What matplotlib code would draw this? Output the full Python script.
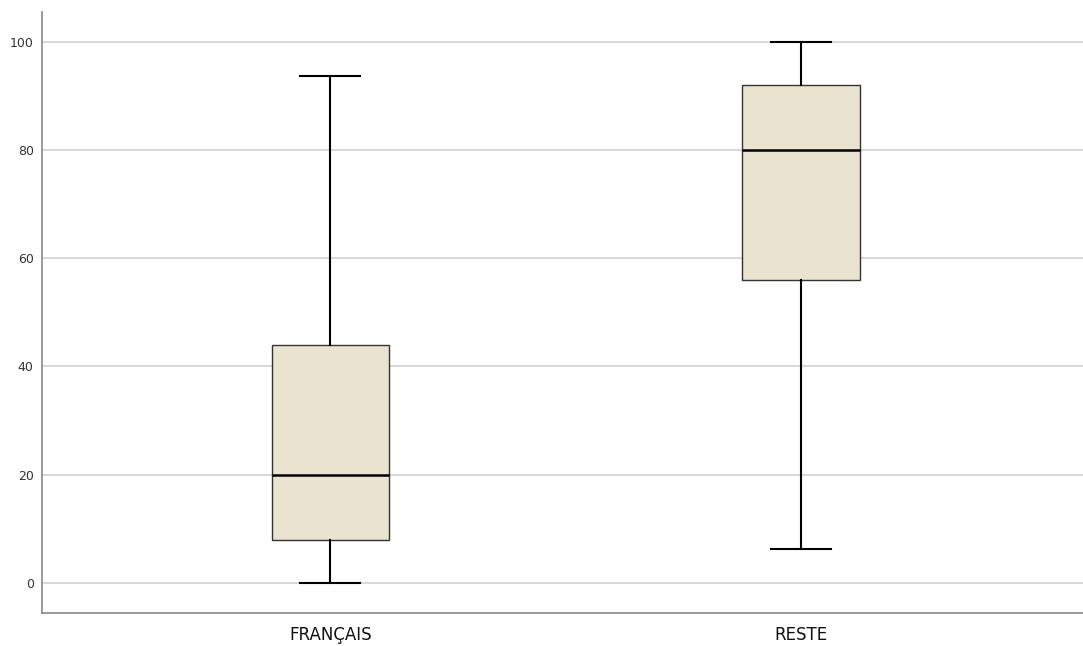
import matplotlib
matplotlib.use('Agg')
import matplotlib.pyplot as plt

categories = ['FRANÇAIS', 'RESTE']
whisker_low = [0, 6.3]
q1 = [8, 56]
median = [20, 80]
q3 = [44, 92]
whisker_high = [93.7, 100]
yticks = [0, 20, 40, 60, 80, 100]

stats = []
for i, name in enumerate(categories):
    stats.append(dict(label=name, whislo=whisker_low[i], q1=q1[i], med=median[i],
                      q3=q3[i], whishi=whisker_high[i], fliers=[]))

fig = plt.figure(figsize=(10.83, 6.46), dpi=100)
ax = fig.add_axes([42 / 1083, 1 - 613 / 646, 1 - 42 / 1083, (613 - 12) / 646])

ax.bxp(stats, positions=[1, 2], widths=0.25, patch_artist=True,
       boxprops=dict(facecolor='#e9e3cf', edgecolor='#333333', linewidth=1.0),
       medianprops=dict(color='black', linewidth=1.8),
       whiskerprops=dict(color='black', linewidth=1.5),
       capprops=dict(color='black', linewidth=1.5),
       capwidths=0.128, zorder=3)

ax.set_xlim(0.387, 2.6)
ax.set_ylim(-5.55, 105.5)
ax.set_yticks(yticks)
ax.set_yticklabels([str(t) for t in yticks], fontsize=9, color='#333333')
ax.set_xticks([1, 2])
ax.set_xticklabels(categories, fontsize=12, color='#111111')
ax.tick_params(axis='both', length=0)
ax.tick_params(axis='y', pad=6)
ax.tick_params(axis='x', pad=9)
ax.yaxis.grid(True, color='#d4d4d4', linewidth=1.3)
ax.set_axisbelow(True)
for side in ['top', 'right']:
    ax.spines[side].set_visible(False)
for side in ['left', 'bottom']:
    ax.spines[side].set_color('#888888')
    ax.spines[side].set_linewidth(1.2)

fig.savefig('out.png', dpi=100)
